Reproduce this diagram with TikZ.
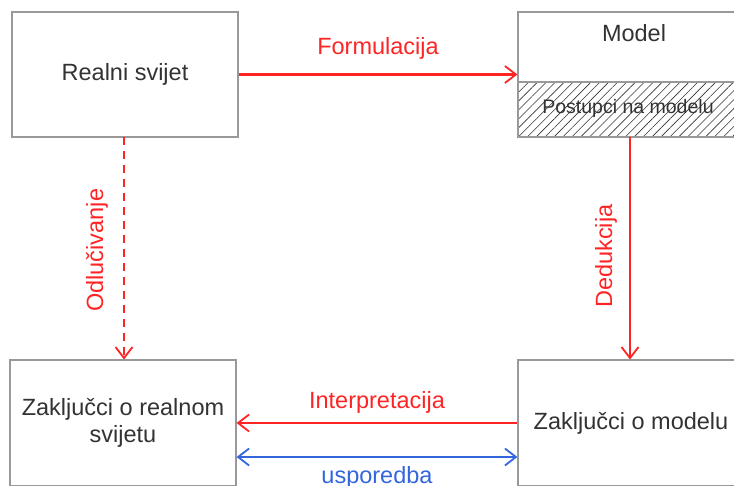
\documentclass[tikz,border=0pt]{standalone}
\usepackage{fontspec}
\setmainfont{Liberation Sans}
\usetikzlibrary{arrows.meta,patterns.meta,positioning,calc}
\definecolor{boxgray}{HTML}{999999}
\definecolor{txtgray}{HTML}{333333}
\definecolor{arrred}{HTML}{FF2424}
\definecolor{arrblue}{HTML}{3366DD}

\begin{document}
\begin{tikzpicture}[x=1pt,y=-1pt]
\tikzset{every node/.style={text=txtgray,font=\fontsize{23.5}{27}\selectfont}}
\tikzset{box/.style={draw=boxgray,line width=1.2pt,fill=white,align=center,inner sep=0pt}}
\tikzset{barb/.tip={Straight Barb[length=11pt,width=17pt,line width=1.8pt]}}
\tikzset{redarrow/.style={draw=arrred,line width=2.1pt,-{barb}}}
\tikzset{bluearrow/.style={draw=arrblue,line width=2.1pt,{barb}-{barb}}}
\tikzset{redlabel/.style={text=arrred}}
\useasboundingbox (0,0) rectangle (734,486);
\clip (0,0) rectangle (734,486);
% boxes
\node [box,minimum width=226pt,minimum height=125pt] (realni) at (125,74.5) {Realni svijet};
\node [box,minimum width=232pt,minimum height=125pt] (model) at (634,74.5) {};
\node [below=10pt of model.north] (modeltxt) {Model};
\node [box,minimum width=232pt,minimum height=55pt,
  pattern={Lines[angle=45,distance=6.3pt,line width=0.6pt]},pattern color=txtgray] (postupci) at (634,109.5) {};
\node [inner sep=0pt,font=\fontsize{19.5}{21}\selectfont] (postupcitxt) at (628,108) {Postupci na modelu};
\node [box,minimum width=226pt,minimum height=126pt] (zrealni) at (123,423) {Zaključci o realnom\\svijetu};
\node [box,minimum width=226pt,minimum height=126pt] (zmodel) at (631,423) {Zaključci o modelu};
% arrows
\draw [redarrow] (realni.east) -- (model.west)
  node [redlabel,midway,yshift=26pt] (formul) {Formulacija};
\draw [redarrow,dash pattern=on 8pt off 6pt] (124,137) -- (124,359.5)
  node [redlabel,midway,rotate=90,xshift=-2pt,yshift=27pt] (odluc) {Odlučivanje};
\draw [redarrow] (630,137) -- (630,359.5)
  node [redlabel,midway,rotate=90,xshift=-8pt,yshift=24pt] (deduk) {Dedukcija};
\draw [redarrow] (zmodel.west) -- (zrealni.east)
  node [redlabel,midway,yshift=21pt] (interp) {Interpretacija};
\draw [bluearrow] ([yshift=-34pt]zrealni.east) -- ([yshift=-34pt]zmodel.west)
  node [text=arrblue,midway,yshift=-20pt] (uspor) {usporedba};
\end{tikzpicture}
\end{document}
